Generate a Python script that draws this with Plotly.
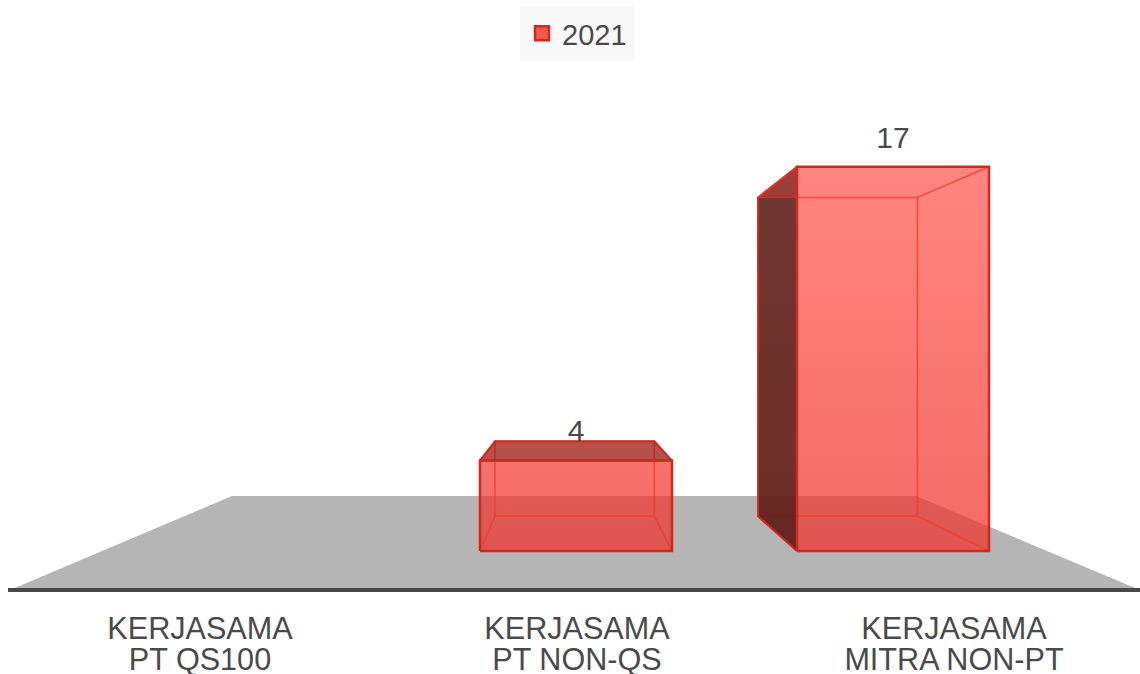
import plotly.graph_objects as go

series_name = "2021"
category_line1 = ["KERJASAMA", "KERJASAMA", "KERJASAMA"]
category_line2 = ["PT QS100", "PT NON-QS", "MITRA NON-PT"]
values = [0, 4, 17]

W, H = 1140, 674
FONT = "Liberation Sans, Arial, sans-serif"
TEXT = "#4a4a4a"
EDGE = "#d02a1e"
INNER = "rgba(245,60,45,0.55)"

# scale of the chart (pixels per unit)
X_UNIT = 317.0
X_FIRST = 259.0
Y_UNIT = 22.6
Y_ZERO = 551.0
BAR_W = 192.0 / X_UNIT

# perspective of the back of each box
DEPTH = 0.83
VX = (568.0 - X_FIRST) / X_UNIT
VY = (Y_ZERO - 347.0) / Y_UNIT


def back(x, y):
    return VX + (x - VX) * DEPTH, VY + (y - VY) * DEPTH


def grad(a0, a1):
    return dict(type="vertical", start=max(values), stop=0,
                colorscale=[[0, f"rgba(255,50,40,{a0})"], [1, f"rgba(235,50,40,{a1})"]])


fig = go.Figure()

for i, v in enumerate(values):
    if not v:
        continue
    l, r = i - BAR_W / 2, i + BAR_W / 2
    fbl, fbr, ftl, ftr = (l, 0), (r, 0), (l, v), (r, v)
    bbl, bbr, btl, btr = back(l, 0), back(r, 0), back(l, v), back(r, v)
    dark_left = bbl[0] < l
    dark_right = bbr[0] > r
    dark_top = btl[1] > v
    faces = [
        ([bbl, bbr, btr, btl], False, None),
        ([fbl, fbr, bbr, bbl], False, None),
        ([fbl, ftl, btl, bbl], dark_left, "rgba(75,20,15,0.8)"),
        ([fbr, ftr, btr, bbr], dark_right, "rgba(75,20,15,0.8)"),
        ([ftl, ftr, btr, btl], dark_top, "rgba(138,27,20,0.6)"),
    ]
    for pts, dark, col in faces:
        xs = [p[0] for p in pts] + [pts[0][0]]
        ys = [p[1] for p in pts] + [pts[0][1]]
        kw = dict(fillcolor=col) if dark else dict(fillgradient=grad(0.3, 0.52))
        fig.add_trace(go.Scatter(x=xs, y=ys, xaxis="x2", yaxis="y", mode="lines", fill="toself",
                                 line=dict(color=EDGE if dark else INNER, width=2 if dark else 1.5),
                                 hoverinfo="skip", showlegend=False, **kw))
    # outer outline of the front of the box, above the inner edges
    fig.add_trace(go.Scatter(x=[l, r, r, l, l], y=[0, 0, v, v, 0], xaxis="x2", yaxis="y", mode="lines",
                             line=dict(color=EDGE, width=2.5), hoverinfo="skip", showlegend=False))

fig.add_trace(go.Bar(x=list(range(len(values))), y=[v if v else None for v in values],
                     xaxis="x2", yaxis="y", width=BAR_W, name=series_name, showlegend=False,
                     marker=dict(color="rgba(250,50,40,0.42)", line=dict(width=0))))

fig.add_trace(go.Scatter(x=[None], y=[None], xaxis="x2", yaxis="y", mode="markers", name=series_name,
                         showlegend=True, hoverinfo="skip",
                         marker=dict(symbol="square", size=14, color="#ee5a50",
                                     line=dict(color=EDGE, width=2.5))))

fig.add_trace(go.Scatter(x=list(range(len(values))), y=values, xaxis="x2", yaxis="y",
                         mode="markers+text", text=[str(v) if v else "" for v in values],
                         textposition="top center", showlegend=False, hoverinfo="skip",
                         marker=dict(size=17, color="rgba(0,0,0,0)"),
                         textfont=dict(family=FONT, size=30, color=TEXT)))

# invisible carriers so both label rows belong to real axes
idx = list(range(len(values)))
fig.add_trace(go.Scatter(x=idx, y=[0, 0, 0], xaxis="x", yaxis="y", mode="markers",
                         marker=dict(opacity=0), showlegend=False, hoverinfo="skip"))
fig.add_trace(go.Scatter(x=idx, y=[0, 0, 0], xaxis="x3", yaxis="y", mode="markers",
                         marker=dict(opacity=0), showlegend=False, hoverinfo="skip"))


def px(x):
    return x / W


def py(y):
    return 1 - y / H


floor = [(10, 590), (232, 496), (916, 496), (1140, 590)]
path = "M " + " L ".join(f"{px(a):.5f},{py(b):.5f}" for a, b in floor) + " Z"

label_axis = dict(tickmode="array", tickvals=idx, showgrid=False, zeroline=False, ticks="",
                  ticklabelstandoff=10, automargin=False,
                  range=[(8 - 200) / 377, (W - 200) / 377], domain=[8 / W, 1], anchor="free",
                  tickfont=dict(family=FONT, size=30.6, color=TEXT))

fig.update_layout(
    width=W, height=H, margin=dict(l=0, r=0, t=0, b=0), autosize=False,
    paper_bgcolor="white", plot_bgcolor="rgba(0,0,0,0)", bargap=0, barmode="overlay",
    font=dict(family=FONT, color=TEXT),
    xaxis=dict(label_axis, ticktext=category_line1, position=py(590), showline=True,
               linecolor="#484848", linewidth=4),
    xaxis2=dict(overlaying="x", range=[(8 - X_FIRST) / X_UNIT, (W - X_FIRST) / X_UNIT], visible=False,
                automargin=False),
    xaxis3=dict(label_axis, ticktext=category_line2, overlaying="x", position=py(628), showline=False),
    yaxis=dict(domain=[0, 1], range=[(Y_ZERO - H) / Y_UNIT, Y_ZERO / Y_UNIT], visible=False,
               automargin=False),
    shapes=[dict(type="path", xref="paper", yref="paper", path=path, fillcolor="#b5b5b5",
                 line=dict(width=0), layer="below")],
    legend=dict(x=577 / W, xanchor="center", y=py(6), yanchor="top", orientation="h",
                bgcolor="#f8f8f8", bordercolor="#f8f8f8", borderwidth=2,
                font=dict(family=FONT, size=29, color=TEXT), itemwidth=30),
)

fig.write_html("out.html", config={"displayModeBar": False},
               post_script="document.body.style.margin='0';")
